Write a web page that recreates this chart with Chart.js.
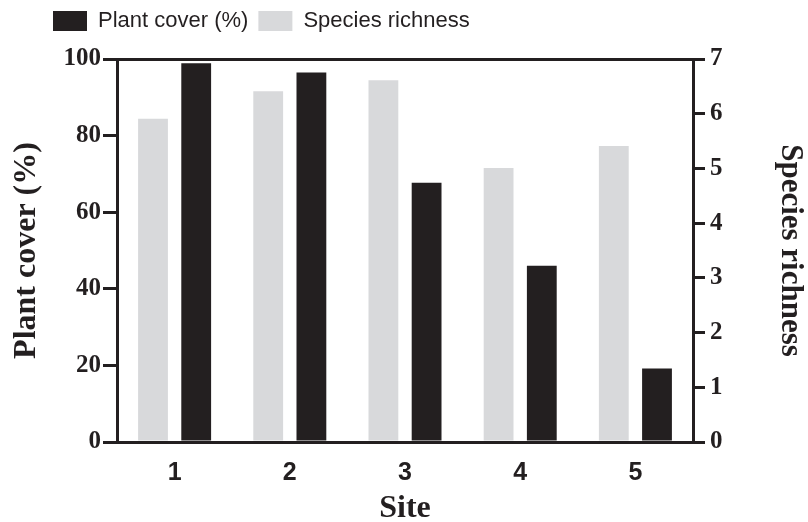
<!DOCTYPE html>
<html>
<head>
<meta charset="utf-8">
<script src="https://cdn.jsdelivr.net/npm/chart.js@4.4.1/dist/chart.umd.min.js"></script>
<style>
  html, body { margin: 0; padding: 0; background: #fff; }
  #chart { display: block; }
</style>
</head>
<body>
<canvas id="chart" width="808" height="522"></canvas>
<script>
// data
const sites = ["1", "2", "3", "4", "5"];
const plantCover = [98.9, 96.5, 67.7, 46.0, 19.2];       // %, left axis
const speciesRichness = [5.91, 6.41, 6.61, 5.01, 5.41];  // right axis
const coverTicks = [0, 20, 40, 60, 80, 100];
const richnessTicks = [0, 1, 2, 3, 4, 5, 6, 7];

const INK = "#231f20";
const GREY = "#d8d9db";
const serifBold = { family: "'Liberation Serif', 'Times New Roman', serif", weight: "bold" };

new Chart(document.getElementById("chart"), {
  type: "bar",
  data: {
    labels: sites,
    datasets: [
      {
        label: "Species richness",
        data: speciesRichness,
        backgroundColor: GREY,
        borderWidth: 0,
        yAxisID: "y1",
      },
      {
        label: "Plant cover (%)",
        data: plantCover,
        backgroundColor: INK,
        borderWidth: 0,
        yAxisID: "y",
      },
    ],
  },
  options: {
    responsive: false,
    animation: false,
    categoryPercentage: 0.75,
    barPercentage: 0.69,
    layout: { padding: { left: 43, top: 0, right: 0, bottom: 0 } },
    plugins: {
      tooltip: { enabled: false },
      legend: {
        position: "top",
        align: "start",
        reverse: true,
        labels: {
          boxWidth: 34,
          boxHeight: 20,
          padding: 10,
          color: INK,
          font: { family: "'Liberation Sans', Arial, sans-serif", size: 22 },
        },
      },
    },
    scales: {
      x: {
        grid: { display: false, drawTicks: false },
        border: { display: true, width: 3, color: INK },
        ticks: {
          color: INK,
          padding: 16,
          font: { family: "'Liberation Sans', Arial, sans-serif", weight: "bold", size: 25 },
        },
        title: {
          display: true,
          text: "Site",
          color: INK,
          font: { ...serifBold, size: 32, lineHeight: 1 },
          padding: { top: 0, bottom: -3 },
        },
        afterFit(scale) { scale.height = 80; },
      },
      // empty top axis: gives the frame its top edge and the gap under the legend
      xTop: {
        type: "category",
        position: "top",
        grid: { display: false, drawTicks: false },
        border: { display: true, width: 3, color: INK },
        ticks: { display: false },
        afterFit(scale) { scale.height = 17; },
      },
      y: {
        position: "left",
        min: 0,
        max: 100,
        afterBuildTicks(scale) { scale.ticks = coverTicks.map((v) => ({ value: v })); },
        grid: { drawOnChartArea: false, drawTicks: true, tickLength: 14, lineWidth: 3, color: INK },
        border: { display: true, width: 3, color: INK },
        ticks: { color: INK, padding: 2, font: { ...serifBold, size: 25 } },
        title: {
          display: true,
          text: "Plant cover (%)",
          color: INK,
          font: { ...serifBold, size: 32, lineHeight: 1 },
          padding: { top: -32, bottom: 0 },
        },
        afterFit(scale) { scale.width = 74; },
      },
      y1: {
        position: "right",
        min: 0,
        max: 7,
        afterBuildTicks(scale) { scale.ticks = richnessTicks.map((v) => ({ value: v })); },
        grid: { drawOnChartArea: false, drawTicks: true, tickLength: 12, lineWidth: 3, color: INK },
        border: { display: true, width: 3, color: INK },
        ticks: { color: INK, padding: 5, font: { ...serifBold, size: 25 } },
        title: {
          display: true,
          text: "Species richness",
          color: INK,
          font: { ...serifBold, size: 31, lineHeight: 1 },
          padding: { top: 2, bottom: 0 },
        },
        afterFit(scale) { scale.width = 115; },
      },
    },
  },
});
</script>
</body>
</html>
